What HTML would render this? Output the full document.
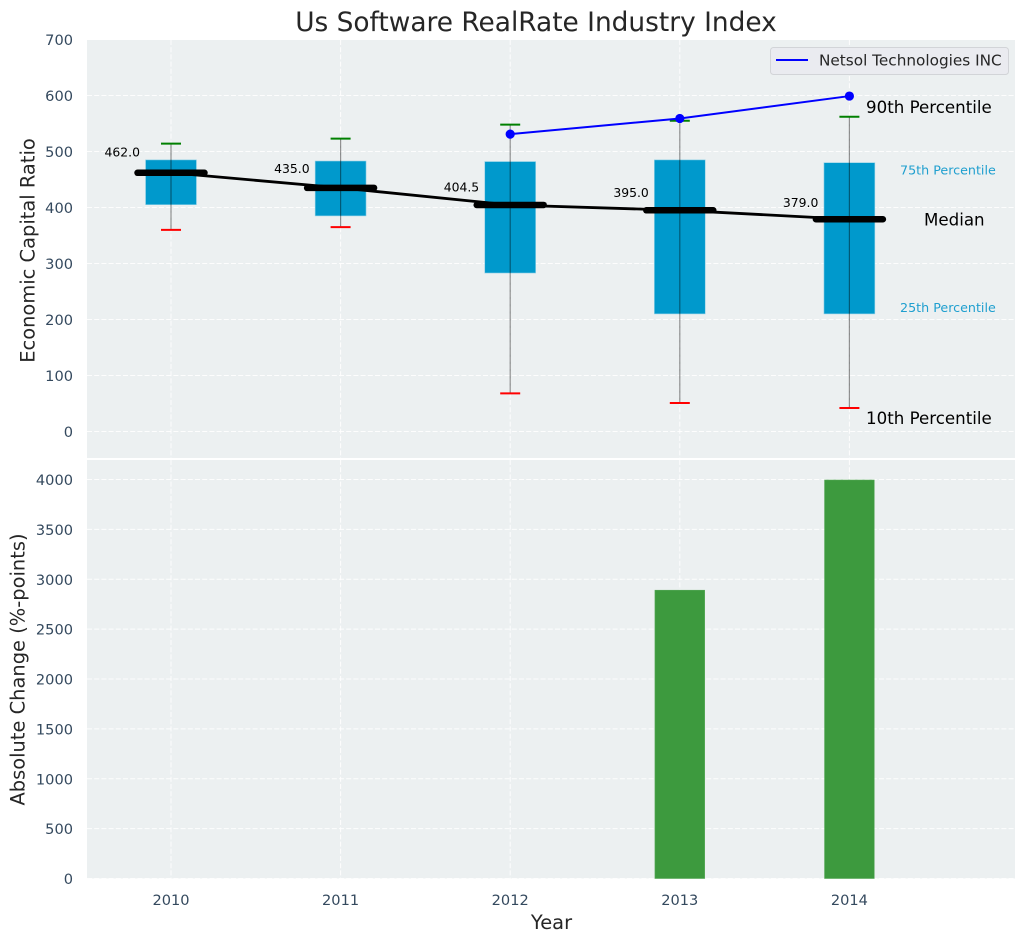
<!DOCTYPE html>
<html>
<head>
<meta charset="utf-8">
<title>Us Software RealRate Industry Index</title>
<style>
html,body{margin:0;padding:0;background:#fff;width:1026px;height:942px;overflow:hidden}
svg{display:block;font-family:"DejaVu Sans","Liberation Sans",sans-serif}
.tick{font-size:14.58px;fill:#34495e}
.axis-title{font-size:19.44px;fill:#262626}
.note{font-size:12.4px;fill:#000}
.ann{font-size:16.67px;fill:#000}
.ann-small{font-size:12.7px;fill:#1f9fcf}
</style>
</head>
<body>
<svg id="chart" width="1026" height="942" viewBox="0 0 1026 942" xmlns="http://www.w3.org/2000/svg">
  <text x="536" y="31" text-anchor="middle" font-size="26.4" fill="#262626">Us Software RealRate Industry Index</text>
  <rect x="87" y="40" width="928" height="418" fill="#ecf0f1"/>
  <rect x="87" y="460" width="928" height="418.5" fill="#ecf0f1"/>
  <g id="grid"></g>
  <g id="barsLayer"></g>
  <g id="boxLayer"></g>
  <g id="seriesLayer"></g>
  <g id="tickLayer"></g>
  <g id="annLayer"></g>
  <text class="axis-title" transform="translate(34.5,250.5) rotate(-90)" text-anchor="middle">Economic Capital Ratio</text>
  <text class="axis-title" transform="translate(24.5,669.5) rotate(-90)" text-anchor="middle">Absolute Change (%-points)</text>
  <text class="axis-title" x="551.5" y="929" text-anchor="middle">Year</text>
  <g>
    <rect x="770.5" y="47.5" width="238" height="27" rx="3" fill="#eaebf0" stroke="#d2d4d8"/>
    <line x1="776" y1="60" x2="808" y2="60" stroke="#0000ff" stroke-width="2"/>
    <text x="819" y="65.5" font-size="15.28" fill="#262626">Netsol Technologies INC</text>
  </g>
</svg>
<script>
const years = [2010, 2011, 2012, 2013, 2014];
const p10 = [360, 365, 68, 51, 42];
const p25 = [405, 385, 283, 210, 210];
const median = [462, 435, 404.5, 395, 379];
const p75 = [485, 483, 482, 485, 480];
const p90 = [514, 523, 548, 555, 562];
const netsolYears = [2012, 2013, 2014];
const netsolValues = [531, 559, 599];
const changeYears = [2013, 2014];
const changeValues = [2890, 3995];
const topTicks = [0, 100, 200, 300, 400, 500, 600, 700];
const bottomTicks = [0, 500, 1000, 1500, 2000, 2500, 3000, 3500, 4000];

const NS = 'http://www.w3.org/2000/svg';
const xAxis = v => 171 + (v - 2010) * 169.6;
const yTop = v => 431.5 - v * 0.56;
const yBottom = v => 878.5 - v * 0.09975;
const BOX_W = 0.3;
const BAR_W = 0.293;

function make(parent, tag, attrs, text) {
  const el = document.createElementNS(NS, tag);
  for (const k in attrs) el.setAttribute(k, attrs[k]);
  if (text !== undefined) el.textContent = text;
  parent.appendChild(el);
  return el;
}
const grid = document.getElementById('grid');
const barsLayer = document.getElementById('barsLayer');
const boxLayer = document.getElementById('boxLayer');
const seriesLayer = document.getElementById('seriesLayer');
const tickLayer = document.getElementById('tickLayer');
const annLayer = document.getElementById('annLayer');
const gridStyle = {stroke: '#ffffff', 'stroke-width': 1, 'stroke-dasharray': '5 2.2', opacity: 0.9};

years.forEach(y => {
  const x = xAxis(y);
  [[40, 458], [460, 878.5]].forEach(r => {
    const l = make(grid, 'line', Object.assign({x1: x, x2: x, y1: r[0], y2: r[1]}, gridStyle));
    
    
  });
  const t = make(tickLayer, 'text', {class: 'tick', x: x, y: 905, 'text-anchor': 'middle'}, y);
  
  
});
topTicks.forEach(v => {
  const y = yTop(v);
  const l = make(grid, 'line', Object.assign({x1: 87, x2: 1015, y1: y, y2: y}, gridStyle));
  
  
  const t = make(tickLayer, 'text', {class: 'tick', x: 73, y: y + 5.5, 'text-anchor': 'end'}, v);
  
  
});
bottomTicks.forEach(v => {
  const y = yBottom(v);
  const l = make(grid, 'line', Object.assign({x1: 87, x2: 1015, y1: y, y2: y}, gridStyle));
  
  
  const t = make(tickLayer, 'text', {class: 'tick', x: 73, y: y + 5.5, 'text-anchor': 'end'}, v);
  
  
});

changeYears.forEach((yr, i) => {
  const x0 = xAxis(yr - BAR_W / 2), x1 = xAxis(yr + BAR_W / 2);
  const b = make(barsLayer, 'rect', {x: x0, y: yBottom(changeValues[i]), width: x1 - x0, height: yBottom(0) - yBottom(changeValues[i]), fill: '#3d9a3e', stroke: '#55a857', 'stroke-width': 0.6});
  
  
});

years.forEach((yr, i) => {
  const x = xAxis(yr);
  const x0 = xAxis(yr - BOX_W / 2), x1 = xAxis(yr + BOX_W / 2);
  const box = make(boxLayer, 'rect', {x: x0, y: yTop(p75[i]), width: x1 - x0, height: yTop(p25[i]) - yTop(p75[i]), fill: '#0099cc', stroke: '#8fd0e6', 'stroke-width': 0.6});
  
  
  const w = make(boxLayer, 'line', {x1: x, x2: x, y1: yTop(p10[i]), y2: yTop(p90[i]), stroke: '#000', 'stroke-opacity': 0.42, 'stroke-width': 1.2});
  
  
  const hi = make(boxLayer, 'line', {x1: x - 10, x2: x + 10, y1: yTop(p90[i]), y2: yTop(p90[i]), stroke: '#008000', 'stroke-width': 2});
  
  
  const lo = make(boxLayer, 'line', {x1: x - 10, x2: x + 10, y1: yTop(p10[i]), y2: yTop(p10[i]), stroke: '#ff0000', 'stroke-width': 2});
  
  
});

const medianPoints = years.map((yr, i) => xAxis(yr) + ',' + yTop(median[i])).join(' ');
const ml = make(seriesLayer, 'polyline', {points: medianPoints, fill: 'none', stroke: '#000', 'stroke-width': 2.8});


years.forEach((yr, i) => {
  const x = xAxis(yr), y = yTop(median[i]);
  const m = make(seriesLayer, 'line', {x1: x - 33.5, x2: x + 33.5, y1: y, y2: y, stroke: '#000', 'stroke-width': 6.5, 'stroke-linecap': 'round'});
  
  
  const t = make(seriesLayer, 'text', {class: 'note', x: x - 31, y: yTop(median[i] * 1.08) + 4.5, 'text-anchor': 'end'}, median[i].toFixed(1));
  
  
});

const netsolPoints = netsolYears.map((yr, i) => xAxis(yr) + ',' + yTop(netsolValues[i])).join(' ');
const nl = make(seriesLayer, 'polyline', {points: netsolPoints, fill: 'none', stroke: '#0000ff', 'stroke-width': 2});


netsolYears.forEach((yr, i) => {
  const c = make(seriesLayer, 'circle', {cx: xAxis(yr), cy: yTop(netsolValues[i]), r: 4.6, fill: '#0000ff'});
  
  
});

const last = years.length - 1;
const a90 = make(annLayer, 'text', {class: 'ann', x: 866, y: yTop(p90[last]) - 4}, '90th Percentile');


const a75 = make(annLayer, 'text', {class: 'ann-small', x: 900, y: yTop(p75[last]) + 12}, '75th Percentile');


const aMed = make(annLayer, 'text', {class: 'ann', x: 924, y: yTop(median[last]) + 6}, 'Median');


const a25 = make(annLayer, 'text', {class: 'ann-small', x: 900, y: yTop(p25[last]) - 2}, '25th Percentile');


const a10 = make(annLayer, 'text', {class: 'ann', x: 866, y: yTop(p10[last]) + 16}, '10th Percentile');


</script>
</body>
</html>
